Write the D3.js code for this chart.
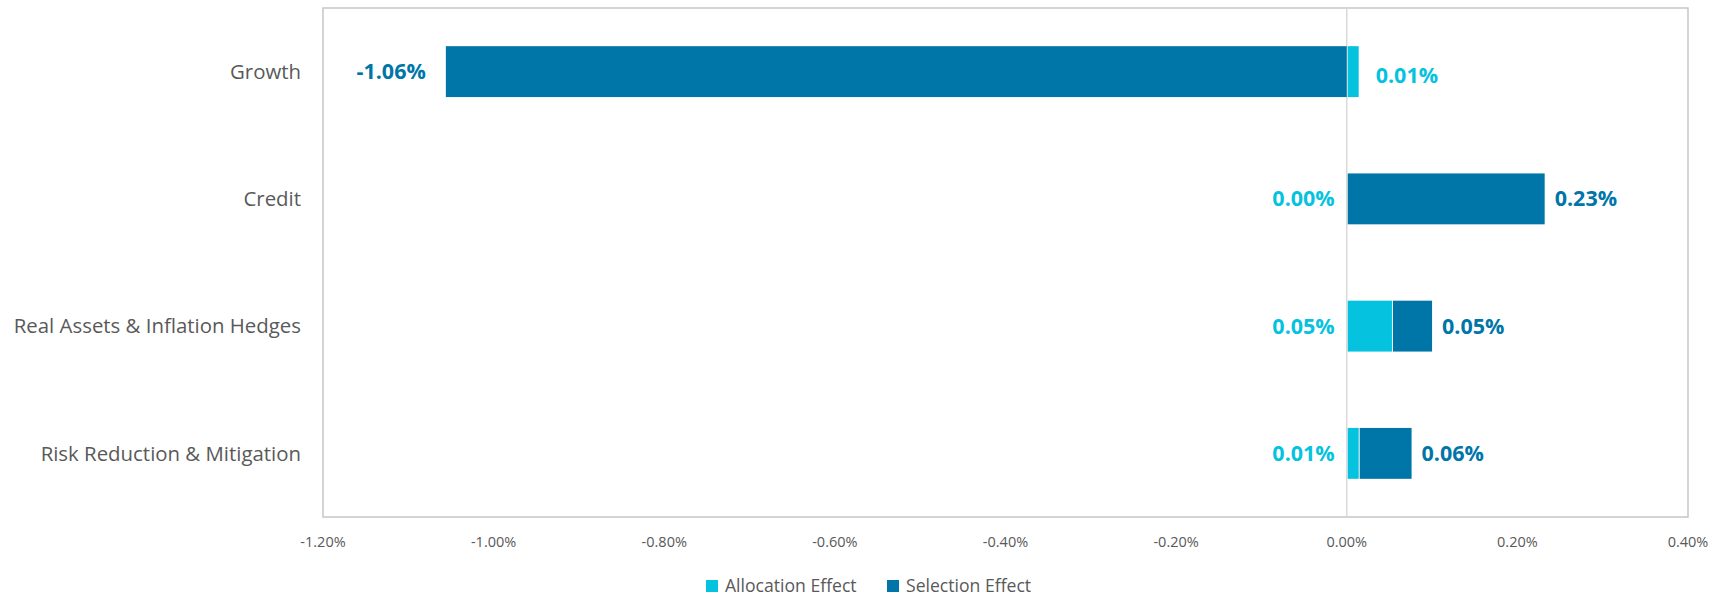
<!DOCTYPE html>
<html>
<head>
<meta charset="utf-8">
<script src="https://cdn.jsdelivr.net/npm/d3@7"></script>
<style>
    body { margin: 0; background: #fff; }
    svg text { font-family: "Segoe UI", "Open Sans", sans-serif; }
</style>
</head>
<body>
<div id="chart"></div>
<script>
// categories and values (percent)
var categories = ["Growth", "Credit", "Real Assets & Inflation Hedges", "Risk Reduction & Mitigation"];
var allocation = [0.014, 0.00, 0.053, 0.014];
var selection = [-1.056, 0.232, 0.047, 0.062];
var allocationLabels = ["0.01%", "0.00%", "0.05%", "0.01%"];
var selectionLabels = ["-1.06%", "0.23%", "0.05%", "0.06%"];
var xTicks = [-1.2, -1.0, -0.8, -0.6, -0.4, -0.2, 0.0, 0.2, 0.4];
var seriesNames = ["Allocation Effect", "Selection Effect"];
var colors = ["#05c3de", "#0076a8"];

var width = 1725;
var height = 597;
var margin = { top: 8, right: 37, bottom: 80, left: 323 };

var svg = d3.select("#chart")
    .append("svg")
    .attr("width", width)
    .attr("height", height);

var x = d3.scaleLinear()
    .domain([-1.2, 0.4])
    .range([margin.left, width - margin.right]);

var y = d3.scaleBand()
    .domain(categories)
    .range([margin.top, height - margin.bottom])
    .paddingInner(0.6)
    .paddingOuter(0.3);

var rows = categories.map(function (c, i) {
    return { cat: c, alloc: allocation[i], sel: selection[i] };
});

var stack = d3.stack()
    .keys(["alloc", "sel"])
    .offset(d3.stackOffsetDiverging);
var series = stack(rows);

// plot border
svg.append("rect")
    .attr("x", x(-1.2))
    .attr("y", margin.top)
    .attr("width", x(0.4) - x(-1.2))
    .attr("height", height - margin.bottom - margin.top)
    .attr("fill", "none")
    .attr("stroke", "#c6c6c6")
    .attr("stroke-width", 1.5);

// zero line
svg.append("line")
    .attr("x1", x(0)).attr("x2", x(0))
    .attr("y1", margin.top).attr("y2", height - margin.bottom)
    .attr("stroke", "#d9d9d9")
    .attr("stroke-width", 1.5);

// bars
svg.selectAll("g.series")
    .data(series)
    .enter()
    .append("g")
    .attr("class", "series")
    .attr("fill", function (d, i) { return colors[i]; })
    .selectAll("rect")
    .data(function (d) { return d; })
    .enter()
    .append("rect")
    .attr("x", function (d) { return x(Math.min(d[0], d[1])) + (Math.min(d[0], d[1]) >= 0 ? 1 : 0); })
    .attr("y", function (d) { return y(d.data.cat); })
    .attr("width", function (d) { return Math.max(0, Math.abs(x(d[1]) - x(d[0])) - (Math.min(d[0], d[1]) >= 0 ? 1 : 0)); })
    .attr("height", y.bandwidth());

// x axis labels
svg.selectAll("text.tick")
    .data(xTicks)
    .enter()
    .append("text")
    .attr("class", "tick")
    .attr("x", function (d) { return x(d); })
    .attr("y", height - margin.bottom + 25)
    .attr("dy", "0.35em")
    .attr("text-anchor", "middle")
    .attr("fill", "#595959")
    .style("font-size", "14.5px")
    .text(function (d) { return d.toFixed(2) + "%"; });

// category labels
svg.selectAll("text.cat")
    .data(categories)
    .enter()
    .append("text")
    .attr("class", "cat")
    .attr("x", margin.left - 22)
    .attr("y", function (d) { return y(d) + y.bandwidth() / 2; })
    .attr("dy", "0.35em")
    .attr("text-anchor", "end")
    .attr("fill", "#595959")
    .style("font-size", "20.4px")
    .text(function (d) { return d; });

// selection labels at the outer end of the selection bar
series[1].forEach(function (d, i) {
    var neg = selection[i] < 0;
    var end = neg ? Math.min(d[0], d[1]) : Math.max(d[0], d[1]);
    svg.append("text")
        .attr("x", neg ? x(end) - 20 : x(end) + 10)
        .attr("y", y(d.data.cat) + y.bandwidth() / 2)
        .attr("dy", "0.35em")
        .attr("text-anchor", neg ? "end" : "start")
        .attr("fill", colors[1])
        .style("font-size", "21.5px")
        .style("font-weight", "bold")
        .text(selectionLabels[i]);
});

// allocation labels: left of zero, unless that side is taken by the selection bar
series[0].forEach(function (d, i) {
    var leftTaken = selection[i] < 0;
    svg.append("text")
        .attr("x", leftTaken ? x(Math.max(d[0], d[1])) + 17 : x(0) - 12)
        .attr("y", y(d.data.cat) + y.bandwidth() / 2 + (leftTaken ? 4 : 0))
        .attr("dy", "0.35em")
        .attr("text-anchor", leftTaken ? "start" : "end")
        .attr("fill", colors[0])
        .style("font-size", "21.5px")
        .style("font-weight", "bold")
        .text(allocationLabels[i]);
});

// legend
var legendX = [706, 887];
var legend = svg.selectAll("g.legend")
    .data(seriesNames)
    .enter()
    .append("g")
    .attr("class", "legend")
    .attr("transform", function (d, i) { return "translate(" + legendX[i] + "," + 586 + ")"; });

legend.append("rect")
    .attr("x", 0)
    .attr("y", -6)
    .attr("width", 12)
    .attr("height", 12)
    .attr("fill", function (d, i) { return colors[i]; });

legend.append("text")
    .attr("x", 19)
    .attr("y", 0)
    .attr("dy", "0.35em")
    .attr("fill", "#595959")
    .style("font-size", "17.6px")
    .text(function (d) { return d; });
</script>
</body>
</html>
